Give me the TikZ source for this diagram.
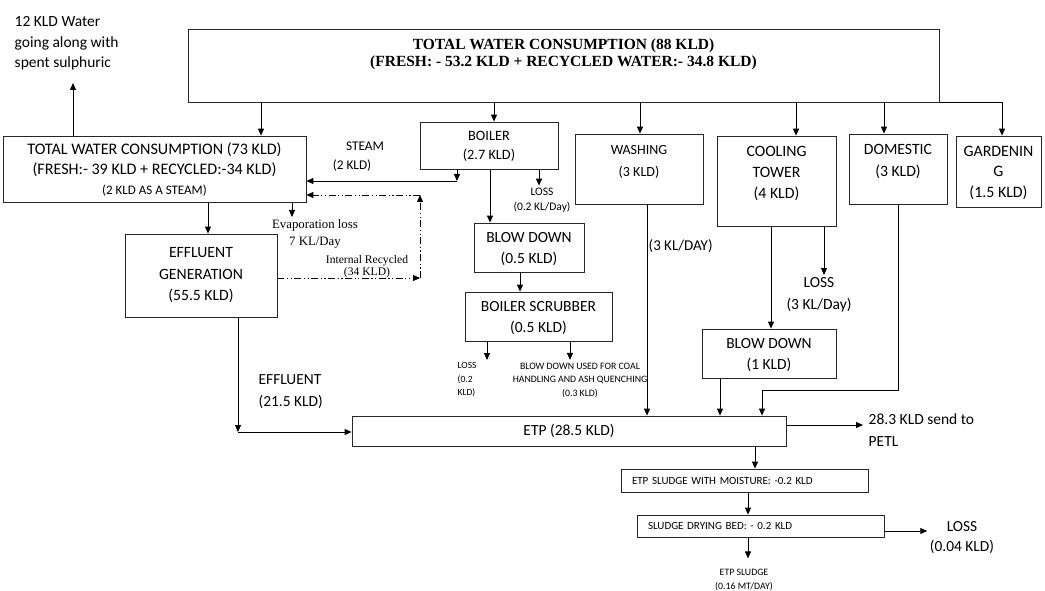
\documentclass[tikz,border=0pt]{standalone}
\usepackage{fontspec}
\setmainfont{Carlito}
\newfontfamily\tms{Liberation Serif}
\usetikzlibrary{arrows.meta,positioning}
\newcommand\fsz[2]{\fontsize{#1}{#2}\selectfont}
\tikzset{
  blk/.style={
    draw = black!85,
    line width = 0.8pt,
    align = center,
    inner sep = 0pt,
    font = \fsz{15.5}{21}
  },
  note/.style={
    align = center,
    inner sep = 2.5pt
  },
  flow/.style={
    line width = 0.9pt,
    -{Triangle[length=7pt,width=6pt]}
  },
  rcy/.style={
    flow,
    dash pattern = on 7pt off 2.5pt on 1.2pt off 2.5pt on 1.2pt off 2.5pt
  },
}

\begin{document}
\begin{tikzpicture}[x=1pt,y=-1pt]
  \useasboundingbox (0,0) rectangle (1045,591);

  \node[blk,minimum width=751pt,minimum height=73pt,text depth=26pt,font=\tms\bfseries\fsz{15.5}{16.5}] (top) at (563.5,65.5)
    {TOTAL WATER CONSUMPTION (88 KLD)\\(FRESH: - 53.2 KLD + RECYCLED WATER:- 34.8 KLD)};
  \node[blk,minimum width=303pt,minimum height=66pt,text depth=-9pt,font=\fsz{16.1}{20}] (twc) at (154.5,169)
    {TOTAL WATER CONSUMPTION (73 KLD)\\(FRESH:- 39 KLD + RECYCLED:-34 KLD)\\{\fsz{13}{20}(2 KLD AS A STEAM)}};
  \node[blk,minimum width=152pt,minimum height=83pt,font=\fsz{15.7}{21.5}] (eg) at (201,275.5) {EFFLUENT\\GENERATION\\(55.5 KLD)};
  \node[blk,minimum width=138pt,minimum height=47pt,text depth=-2.5pt,font=\fsz{14.3}{19}] (boil) at (489,145.5) {BOILER\\(2.7 KLD)};
  \node[blk,minimum width=110pt,minimum height=49pt,text depth=-2pt] (bd1) at (529,247.5) {BLOW DOWN\\(0.5 KLD)};
  \node[blk,minimum width=147pt,minimum height=49pt,text depth=-2pt] (scr) at (538.5,316.5) {BOILER SCRUBBER\\(0.5 KLD)};
  \node[blk,minimum width=128pt,minimum height=70pt,text depth=15.5pt,font=\fsz{14}{22}] (wash) at (639,169) {WASHING\\(3 KLD)};
  \node[blk,minimum width=119pt,minimum height=90pt,text depth=16.5pt,font=\fsz{15.8}{21}] (cool) at (776.5,181) {COOLING\\TOWER\\(4 KLD)};
  \node[blk,minimum width=134pt,minimum height=49pt,text depth=-4pt] (bd2) at (769,353.5) {BLOW DOWN\\(1 KLD)};
  \node[blk,minimum width=98pt,minimum height=70pt,text depth=17.5pt,font=\fsz{15.7}{22}] (dom) at (898,169) {DOMESTIC\\(3 KLD)};
  \node[blk,minimum width=85pt,minimum height=71pt,text depth=0pt,font=\fsz{15.9}{20.5}] (gard) at (998.5,171.5) {GARDENIN\\G\\(1.5 KLD)};
  \node[blk,minimum width=434pt,minimum height=30pt] (etp) at (569,431) {ETP (28.5 KLD)};
  \node[blk,text width=225pt,inner xsep=11pt,align=left,minimum height=23pt,font=\fsz{11}{12}] (sl1) at (744.5,480.5) {ETP SLUDGE WITH MOISTURE: -0.2 KLD};
  \node[blk,text width=225pt,inner xsep=11pt,align=left,minimum height=22pt,font=\fsz{11}{12}] (sl2) at (760.5,526) {SLUDGE DRYING BED: - 0.2 KLD};

  \node[note,anchor=west,align=left,font=\fsz{15.5}{20.5}] (spent) at (12,43.5) {12 KLD Water\\going along with\\spent sulphuric};
  \node[note,font=\fsz{13.3}{13}] (steam) at (365,146) {STEAM};
  \node[note,font=\fsz{13.3}{13}] (steamq) at (352,166) {(2 KLD)};
  \node[note,font=\tms\fsz{12.8}{17}] (evap) at (315,234) {Evaporation loss\\7 KL/Day};
  \node[note,font=\tms\fsz{11.6}{12}] (irec) at (367,267) {Internal Recycled\\(34 KLD)};
  \node[note,font=\fsz{11.5}{15}] (bloss) at (542,200.5) {LOSS\\(0.2 KL/Day)};
  \node[note,anchor=west,align=left,font=\fsz{9.5}{13.5}] (sloss) at (455,380) {LOSS\\(0.2\\KLD)};
  \node[note,font=\fsz{9.8}{13.5}] (sbd) at (580,380) {BLOW DOWN USED FOR COAL\\HANDLING AND ASH QUENCHING\\(0.3 KLD)};
  \node[note,anchor=west,font=\fsz{15}{15}] (wday) at (646,246) {(3 KL/DAY)};
  \node[note,font=\fsz{15.5}{22}] (closs) at (819,295) {LOSS\\(3 KL/Day)};
  \node[note,anchor=west,align=left,font=\fsz{15.4}{22}] (eff) at (256,392) {EFFLUENT\\(21.5 KLD)};
  \node[note,anchor=west,align=left,font=\fsz{15.5}{22}] (petl) at (866,430.5) {28.3 KLD send to\\PETL};
  \node[note,font=\fsz{15.4}{20}] (dloss) at (962,538) {LOSS\\(0.04 KLD)};
  \node[note,font=\fsz{9.8}{14}] (sludge) at (744,580) {ETP SLUDGE\\(0.16 MT/DAY)};

  \coordinate (up) at (73,83);
  \coordinate (stm) at (457,181);
  \coordinate (rc1) at (420,278);
  \coordinate (rc2) at (420,195);
  \coordinate (ef) at (238,432);
  \coordinate (dm) at (762,390);

  \foreach \n/\x in {twc/261,boil/494,wash/640,cool/796,dom/884}
    \draw[flow] (top.south -| \x,0) -- (\n.north -| \x,0);
  \draw[flow] (top.south east) -| (gard.north -| 1002,0);
  \draw[flow] (twc.north -| up) -- (up);
  \draw[flow] (twc.south -| 208,0) -- (eg.north -| 208,0);
  \draw[flow] (twc.south -| 292,0) -- (evap.north -| 292,0);

  \draw[flow] (boil.south -| stm) -- (stm);
  \draw[flow] (stm) -- (twc.east |- stm);
  \draw[rcy] (eg.east |- rc1) -- (rc1);
  \draw[rcy] (rc1) -- (rc2);
  \draw[rcy] (rc2) -- (twc.east |- rc2);

  \draw[flow] (boil.south -| 490,0) -- (bd1.north -| 490,0);
  \draw[flow] (boil.south -| 539,0) -- (bloss.north -| 539,0);
  \draw[flow] (bd1.south -| 520,0) -- (scr.north -| 520,0);
  \draw[flow] (scr.south -| 487,0) -- (sloss.north -| 487,0);
  \draw[flow] (scr.south -| 570,0) -- (sbd.north -| 570,0);

  \draw[flow] (eg.south -| ef) -- (ef);
  \draw[flow] (ef) -- (etp.west |- ef);
  \draw[flow] (wash.south -| 647,0) -- (etp.north -| 647,0);
  \draw[flow] (cool.south -| 771,0) -- (bd2.north -| 771,0);
  \draw[flow] (cool.south -| 824,0) -- (closs.north -| 824,0);
  \draw[flow] (bd2.south -| 720,0) -- (etp.north -| 720,0);
  \draw[flow] (dom.south) |- (dm) -- (etp.north -| dm);

  \draw[flow,shorten >=3pt] (etp.east |- 0,425) -- (petl.west |- 0,425);
  \draw[flow] (etp.south -| 755,0) -- (sl1.north -| 755,0);
  \draw[flow] (sl1.south -| 748,0) -- (sl2.north -| 748,0);
  \draw[flow] (sl2.east |- 0,531) -- (dloss.west |- 0,531);
  \draw[flow,shorten >=8pt] (sl2.south -| 748,0) -- (sludge.north -| 748,0);
\end{tikzpicture}
\end{document}
